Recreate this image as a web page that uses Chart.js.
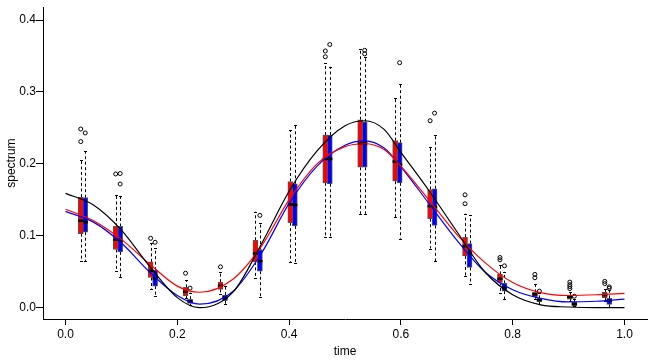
<!DOCTYPE html>
<html>
<head>
<meta charset="utf-8">
<script src="https://cdn.jsdelivr.net/npm/chart.js@4.4.1/dist/chart.umd.min.js"></script>
<style>
html, body { margin: 0; padding: 0; background: #fff; }
canvas { display: block; }
</style>
</head>
<body>
<canvas id="chart" width="654" height="363"></canvas>
<script>
// box positions on the time axis
const positions = [0.03125, 0.09375, 0.15625, 0.21875, 0.28125, 0.34375, 0.40625, 0.46875,
                   0.53125, 0.59375, 0.65625, 0.71875, 0.78125, 0.84375, 0.90625, 0.96875];

// red boxes
const redLo  = [0.065, 0.0515, 0.0255, 0.0134, 0.019, 0.042, 0.0637, 0.0983, 0.1307, 0.126, 0.0823, 0.044, 0.020, 0.0125, 0.0093, 0.0093];
const redQ1  = [0.103, 0.081, 0.042, 0.0169, 0.0255, 0.0637, 0.1183, 0.1737, 0.1953, 0.1759, 0.1238, 0.072, 0.0352, 0.0152, 0.012, 0.0139];
const redMed = [0.121, 0.0947, 0.0512, 0.0222, 0.0305, 0.0753, 0.1436, 0.2069, 0.2285, 0.2032, 0.1413, 0.0855, 0.0402, 0.0186, 0.0148, 0.0176];
const redQ3  = [0.154, 0.113, 0.0637, 0.0283, 0.0356, 0.0938, 0.1755, 0.2402, 0.2614, 0.2323, 0.1644, 0.0983, 0.0463, 0.0213, 0.0176, 0.0213];
const redHi  = [0.206, 0.157, 0.0896, 0.0384, 0.0494, 0.1335, 0.247, 0.340, 0.3596, 0.2922, 0.223, 0.1307, 0.059, 0.0328, 0.0217, 0.026];
const redOut = [[0.2485, 0.231], [0.186], [0.0965], [0.048], [0.0568], [], [], [0.357, 0.349],
                [], [], [0.26], [0.157, 0.1446], [0.0698, 0.0666], [0.0463, 0.0416], [0.0356, 0.0321, 0.0294, 0.0266], [0.0366, 0.0335]];

// blue boxes
const blueLo  = [0.065, 0.043, 0.016, 0.0037, 0.0047, 0.0144, 0.0615, 0.0983, 0.1307, 0.0961, 0.0647, 0.033, 0.0116, 0.0051, 0.0017, 0.001];
const blueQ1  = [0.105, 0.0776, 0.030, 0.0058, 0.0097, 0.0508, 0.1136, 0.1723, 0.1953, 0.1737, 0.1145, 0.056, 0.0231, 0.0083, 0.0028, 0.0047];
const blueMed = [0.119, 0.093, 0.041, 0.0089, 0.0139, 0.0647, 0.1427, 0.2069, 0.2285, 0.199, 0.1399, 0.0753, 0.0283, 0.0107, 0.0051, 0.0097];
const blueQ3  = [0.153, 0.113, 0.0522, 0.0118, 0.0176, 0.0809, 0.1723, 0.2402, 0.2586, 0.2295, 0.1654, 0.0892, 0.0338, 0.013, 0.0075, 0.013];
const blueHi  = [0.218, 0.155, 0.0827, 0.021, 0.030, 0.1177, 0.2544, 0.335, 0.348, 0.3108, 0.2402, 0.1284, 0.0499, 0.020, 0.0127, 0.0245];
const blueOut = [[0.243], [0.1866, 0.172], [0.091], [0.0273], [], [0.1284], [], [0.366],
                 [0.358, 0.353], [0.3407], [0.2706], [], [0.0582], [0.0231], [0.016], [0.029, 0.027]];

// smooth curves
const curveX     = [0, 0.05, 0.1, 0.15, 0.2, 0.24, 0.3, 0.35, 0.4, 0.45, 0.5, 0.535, 0.57, 0.6, 0.65, 0.7, 0.75, 0.8, 0.85, 0.9, 0.95, 1.0];
const blackCurve = [0.159, 0.143, 0.108, 0.058, 0.014, 0.000, 0.022, 0.088, 0.162, 0.218, 0.253, 0.260, 0.248, 0.216, 0.163, 0.106, 0.050, 0.018, 0.004, 0.001, 0.0, 0.0];
const redCurve   = [0.137, 0.121, 0.095, 0.061, 0.030, 0.0215, 0.040, 0.085, 0.150, 0.200, 0.224, 0.228, 0.220, 0.197, 0.150, 0.102, 0.063, 0.035, 0.021, 0.017, 0.018, 0.020];
const blueCurve  = [0.134, 0.119, 0.090, 0.050, 0.017, 0.005, 0.023, 0.075, 0.145, 0.197, 0.226, 0.232, 0.222, 0.196, 0.145, 0.094, 0.050, 0.025, 0.013, 0.008, 0.009, 0.012];

const xTicks = [0, 0.2, 0.4, 0.6, 0.8, 1.0];
const yTicks = [0, 0.1, 0.2, 0.3, 0.4];

const shift = 0.004;
const boxSets = {
    red:  { shift: -shift, lo: redLo, q1: redQ1, med: redMed, q3: redQ3, hi: redHi, out: redOut },
    blue: { shift: shift, lo: blueLo, q1: blueQ1, med: blueMed, q3: blueQ3, hi: blueHi, out: blueOut }
};

function boxData(set) {
    return positions.map((p, i) => ({ x: p + set.shift, y: [set.q1[i], set.q3[i]] }));
}

function outlierData(set) {
    const pts = [];
    positions.forEach((p, i) => set.out[i].forEach(v => pts.push({ x: p + set.shift, y: v })));
    return pts;
}

function curveData(values) {
    return curveX.map((x, i) => ({ x: x, y: values[i] }));
}

// whiskers under the boxes, medians on top of each box dataset
const boxParts = {
    id: 'boxParts',
    beforeDatasetsDraw(chart) {
        const ctx = chart.ctx, xs = chart.scales.x, ys = chart.scales.y;
        ctx.save();
        ctx.strokeStyle = '#000';
        ctx.lineWidth = 1;
        Object.values(boxSets).forEach(set => {
            positions.forEach((p, i) => {
                const px = Math.round(xs.getPixelForValue(p + set.shift)) + 0.5;
                const hi = ys.getPixelForValue(set.hi[i]);
                const lo = ys.getPixelForValue(set.lo[i]);
                ctx.setLineDash([3, 2.5]);
                ctx.beginPath();
                ctx.moveTo(px, ys.getPixelForValue(set.q3[i]));
                ctx.lineTo(px, hi);
                ctx.moveTo(px, ys.getPixelForValue(set.q1[i]));
                ctx.lineTo(px, lo);
                ctx.stroke();
                ctx.setLineDash([]);
                ctx.beginPath();
                ctx.moveTo(px - 1.5, Math.round(hi) + 0.5);
                ctx.lineTo(px + 1.5, Math.round(hi) + 0.5);
                ctx.moveTo(px - 1.5, Math.round(lo) + 0.5);
                ctx.lineTo(px + 1.5, Math.round(lo) + 0.5);
                ctx.stroke();
            });
        });
        ctx.restore();
    },
    afterDatasetDraw(chart, args) {
        const ds = chart.data.datasets[args.index];
        const set = boxSets[ds.label];
        if (!set || ds.type !== 'bar') return;
        const ctx = chart.ctx, xs = chart.scales.x, ys = chart.scales.y;
        ctx.save();
        ctx.strokeStyle = '#000';
        ctx.lineWidth = 2.5;
        positions.forEach((p, i) => {
            const px = xs.getPixelForValue(p + set.shift);
            const py = ys.getPixelForValue(set.med[i]);
            ctx.beginPath();
            ctx.moveTo(px - 2.6, py);
            ctx.lineTo(px + 2.6, py);
            ctx.stroke();
        });
        ctx.restore();
    }
};

const tickFont = { family: '"Liberation Sans", Arial, sans-serif', size: 12 };

new Chart(document.getElementById('chart'), {
    type: 'bar',
    data: {
        datasets: [
            { type: 'line', label: 'blackCurve', data: curveData(blackCurve), borderColor: '#000', borderWidth: 1.2, pointRadius: 0, cubicInterpolationMode: 'monotone', order: 0 },
            { type: 'line', label: 'redCurve', data: curveData(redCurve), borderColor: '#ff0000', borderWidth: 1.2, pointRadius: 0, cubicInterpolationMode: 'monotone', order: 0 },
            { type: 'line', label: 'blueCurve', data: curveData(blueCurve), borderColor: '#0000ff', borderWidth: 1.2, pointRadius: 0, cubicInterpolationMode: 'monotone', order: 0 },
            { type: 'scatter', label: 'redOut', data: outlierData(boxSets.red), pointRadius: 2, borderColor: '#000', borderWidth: 1, backgroundColor: 'rgba(0,0,0,0)', order: 1 },
            { type: 'scatter', label: 'blueOut', data: outlierData(boxSets.blue), pointRadius: 2, borderColor: '#000', borderWidth: 1, backgroundColor: 'rgba(0,0,0,0)', order: 1 },
            { type: 'bar', label: 'red', data: boxData(boxSets.red), backgroundColor: '#ff0000', borderColor: '#555', borderWidth: 1, borderSkipped: false, barThickness: 5, grouped: false, order: 2 },
            { type: 'bar', label: 'blue', data: boxData(boxSets.blue), backgroundColor: '#0000ff', borderColor: '#555', borderWidth: 1, borderSkipped: false, barThickness: 5, grouped: false, order: 2 }
        ]
    },
    options: {
        responsive: false,
        animation: false,
        devicePixelRatio: 1,
        layout: { padding: { top: 6, right: 7, left: 0, bottom: 0 } },
        plugins: { legend: { display: false }, tooltip: { enabled: false } },
        scales: {
            x: {
                type: 'linear',
                offset: false,
                min: -0.0403,
                max: 1.0403,
                afterBuildTicks: scale => { scale.ticks = xTicks.map(v => ({ value: v })); },
                afterFit: scale => { scale.height = 44; },
                ticks: { font: tickFont, color: '#000', padding: 2, maxRotation: 0, callback: v => v.toFixed(1) },
                grid: { offset: false, drawOnChartArea: false, drawTicks: true, tickLength: 6, color: '#000' },
                border: { display: true, color: '#000', width: 1 },
                title: { display: true, text: 'time', font: tickFont, color: '#000', padding: { top: 0, bottom: 4 } }
            },
            y: {
                type: 'linear',
                min: -0.0157,
                max: 0.4179,
                afterBuildTicks: scale => { scale.ticks = yTicks.map(v => ({ value: v })); },
                afterFit: scale => { scale.width = 43; },
                ticks: { font: tickFont, color: '#000', padding: 0, callback: v => v.toFixed(1) },
                grid: { offset: false, drawOnChartArea: false, drawTicks: true, tickLength: 7, color: '#000' },
                border: { display: true, color: '#000', width: 1 },
                title: { display: true, text: 'spectrum', font: tickFont, color: '#000', padding: { top: 4, bottom: 0 } }
            }
        }
    },
    plugins: [boxParts]
});
</script>
</body>
</html>
